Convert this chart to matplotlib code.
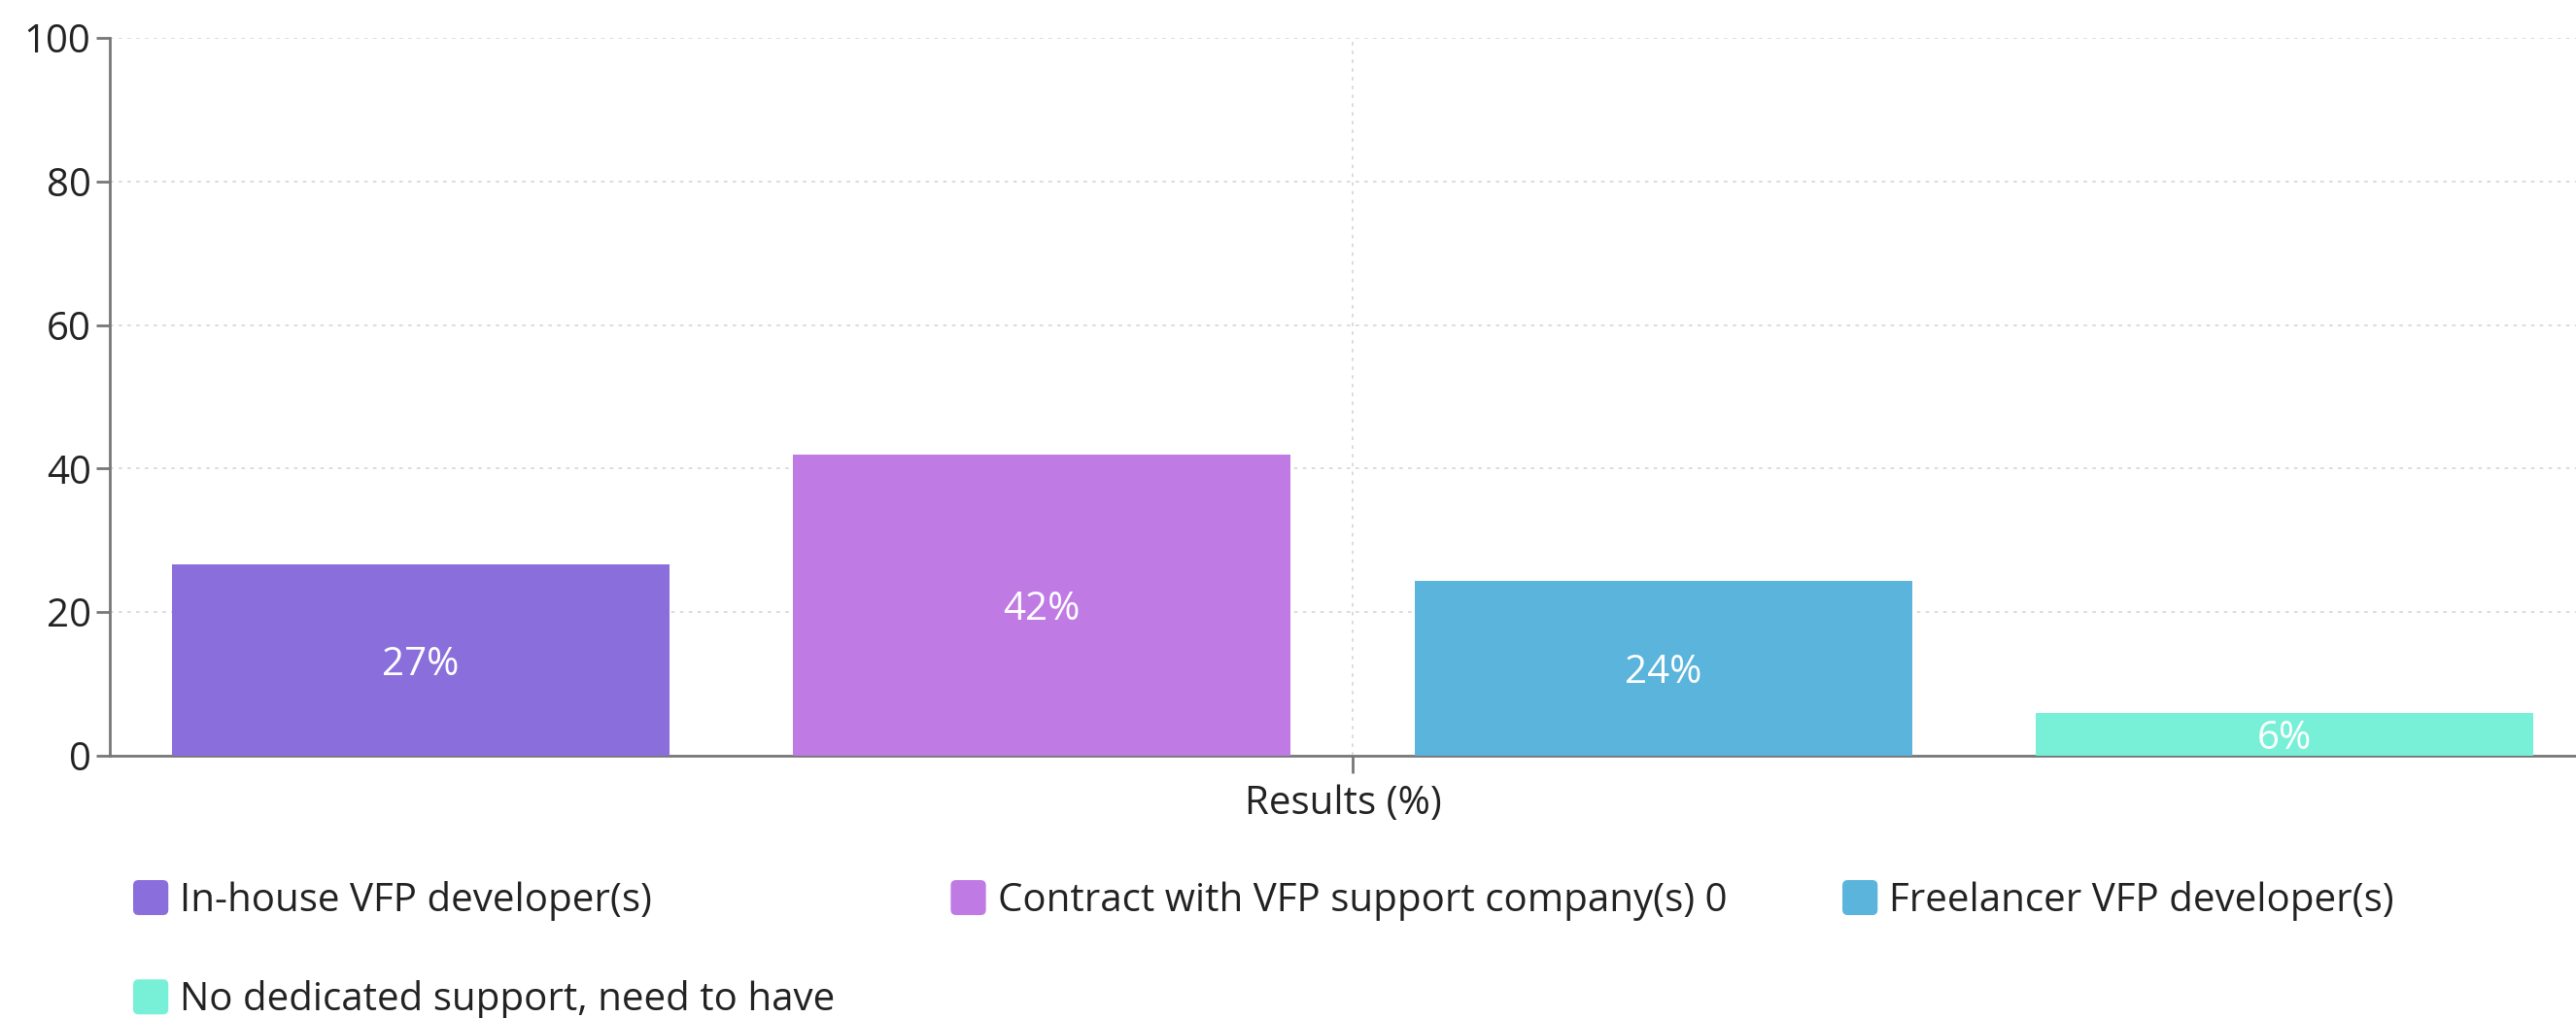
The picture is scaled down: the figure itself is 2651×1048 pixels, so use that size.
import matplotlib
matplotlib.use("Agg")
import matplotlib.pyplot as plt
from matplotlib.patches import Patch, FancyBboxPatch
from matplotlib.legend_handler import HandlerPatch

# Data
categories = [
    "In-house VFP developer(s)",
    "Contract with VFP support company(s) 0",
    "Freelancer VFP developer(s)",
    "No dedicated support, need to have",
]
values = [26.7, 41.9, 24.4, 5.9]
colors = ["#8A6FDC", "#BF7BE3", "#5AB4DB", "#78F0D7"]
y_ticks = [0, 20, 40, 60, 80, 100]
x_label = "Results (%)"

plt.rcParams["font.family"] = ["Open Sans", "DejaVu Sans"]

fig = plt.figure(figsize=(26.51, 10.48), dpi=100)
ax = fig.add_axes([113 / 2651, 1 - 778 / 1048, 1 - 113 / 2651, (778 - 39) / 1048])

x = list(range(len(values)))
ax.bar(x, values, width=0.8, color=colors, zorder=3)

# value labels in the middle of each bar
for xi, v in zip(x, values):
    ax.text(xi, v / 2, f"{round(v)}%", ha="center", va="center_baseline",
            color="white", fontsize=29, zorder=4)

ax.set_ylim(0, 100)
ax.set_xlim(-0.5, -0.5 + 2538 / 639.5)
ax.set_yticks(y_ticks)
ax.set_xticks([1.5])
ax.set_xticklabels([""])
ax.set_xlabel(x_label, fontsize=29, color="#222222", labelpad=5)

ax.grid(True, axis="both", linestyle=(0, (2, 3)), color="#d9d9d9", linewidth=1.3, zorder=0)

for side in ["top", "right"]:
    ax.spines[side].set_visible(False)
for side in ["left", "bottom"]:
    ax.spines[side].set_color("#777777")
    ax.spines[side].set_linewidth(2)
ax.tick_params(axis="y", labelsize=29, labelcolor="#222222", color="#777777",
               length=10, width=2, pad=4)
ax.tick_params(axis="x", color="#777777", length=13, width=2)


def rounded_box(legend, orig_handle, xdescent, ydescent, width, height, fontsize):
    return FancyBboxPatch((-xdescent, -ydescent), width, height,
                          boxstyle="round,pad=0,rounding_size=4")


# legend fills column by column, so reorder to get row-major layout
order = [0, 3, 1, 2]
handles = [Patch(facecolor=colors[i], edgecolor="none") for i in order]
labels = [categories[i] for i in order]
fig.legend(handles, labels, loc="upper left", bbox_to_anchor=(137 / 2651, 1 - 906 / 1048),
           ncol=3, frameon=False, fontsize=29, handlelength=0.9, handleheight=1.0,
           handletextpad=0.3, columnspacing=2.95, labelspacing=1.5, borderaxespad=0,
           borderpad=0, labelcolor="#222222",
           handler_map={Patch: HandlerPatch(patch_func=rounded_box)})

fig.savefig("out.png", dpi=100)
